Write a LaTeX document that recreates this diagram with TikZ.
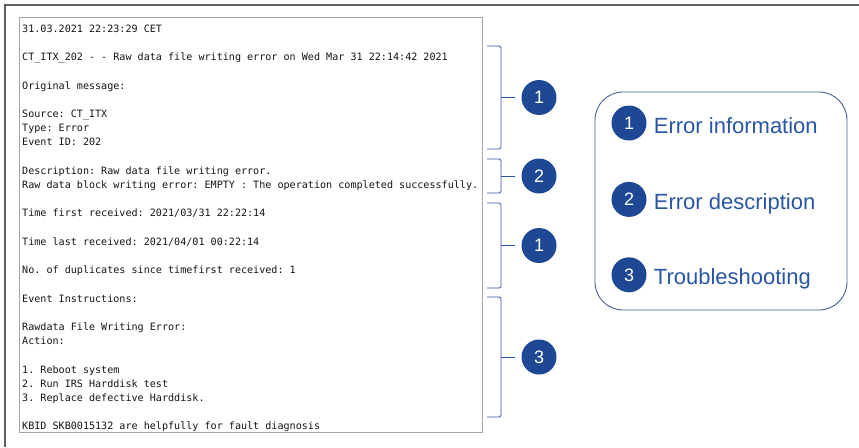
\documentclass[tikz,border=0pt]{standalone}
\usepackage{fontspec}
\setmainfont{Liberation Sans}
\setmonofont{DejaVu Sans Mono}
\definecolor{main}{RGB}{30, 72, 148}
\definecolor{bracket}{RGB}{45, 85, 165}
\definecolor{label}{RGB}{40, 86, 164}
\definecolor{legendline}{RGB}{70, 95, 140}
\definecolor{frame}{RGB}{95, 95, 95}
\definecolor{logbox}{RGB}{165, 165, 165}
\definecolor{logtext}{RGB}{20, 20, 20}
\usetikzlibrary{positioning, calc}

\tikzset{
  badge/.style={circle, fill=main, text=white, minimum size=35pt, inner sep=0pt,
    font=\fontsize{18}{18}\selectfont},
  bracketline/.style={draw=bracket, line width=0.9pt, rounded corners=1.5pt},
  legendtext/.style={text=label, anchor=west, inner sep=0pt, text height=20pt, text depth=0pt,
    font=\fontsize{22}{22}\selectfont},
}

\begin{document}
\begin{tikzpicture}[x=1pt, y=-1pt]
  \useasboundingbox (0,0) rectangle (859,447);
  % outer frame and log window
  \draw[frame, line width=1.2pt] (5,447) -- (5,5) -- (859,5);
  \draw[logbox, line width=0.8pt] (19,17) rectangle (482,432);
  \node[anchor=north west, inner sep=0pt, align=left, text=logtext,
        font=\ttfamily\fontsize{10.1}{14.2}\selectfont] (log) at (22,24.6) {%
    31.03.2021 22:23:29 CET\\
    \\
    CT\_ITX\_202 - - Raw data file writing error on Wed Mar 31 22:14:42 2021\\
    \\
    Original message:\\
    \\
    Source: CT\_ITX\\
    Type: Error\\
    Event ID: 202\\
    \\
    Description: Raw data file writing error.\\
    Raw data block writing error: EMPTY : The operation completed successfully.\\
    \\
    Time first received: 2021/03/31 22:22:14\\
    \\
    Time last received: 2021/04/01 00:22:14\\
    \\
    No. of duplicates since timefirst received: 1\\
    \\
    Event Instructions:\\
    \\
    Rawdata File Writing Error:\\
    Action:\\
    \\
    1. Reboot system\\
    2. Run IRS Harddisk test\\
    3. Replace defective Harddisk.\\
    \\
    KBID SKB0015132 are helpfully for fault diagnosis};

  % brackets with numbered badges
  \foreach \top/\bot/\nm/\num in {46/149/sec1/1, 159/193/sec2/2, 203/288/sec3/1, 297/417/sec4/3} {
    \node[badge] (\nm) at (539,{(\top+\bot)/2}) {\num};
    \coordinate (\nm-tip) at (501,{(\top+\bot)/2});
    \draw[bracketline] (487,\top) -| (\nm-tip) |- (487,\bot);
    \draw[bracketline] (\nm-tip) -- ([xshift=-6pt]\nm.west);
  }

  % legend
  \draw[legendline, line width=0.9pt, rounded corners=28pt] (595,92) rectangle (847,310);
  \node[badge] (key1) at (629,123) {1};
  \node[badge, below=41pt of key1] (key2) {2};
  \node[badge, below=40pt of key2] (key3) {3};
  \node[legendtext, right=7pt of key1] (txt1) {Error information};
  \node[legendtext, right=7pt of key2] (txt2) {Error description};
  \node[legendtext, right=7pt of key3] (txt3) {Troubleshooting};
\end{tikzpicture}
\end{document}
